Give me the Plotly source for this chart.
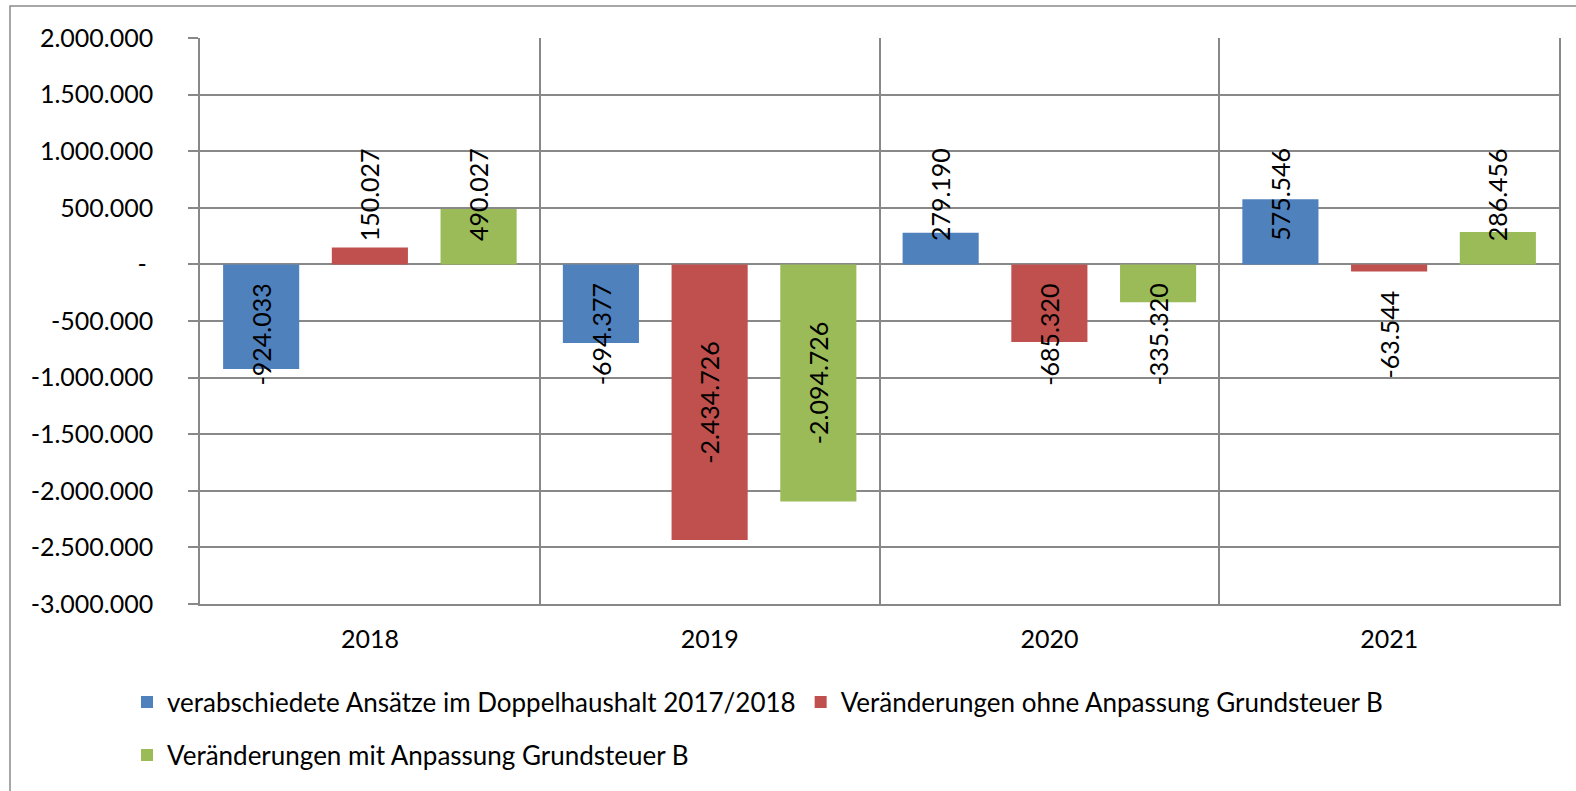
import plotly.graph_objects as go

# ---------------- data ----------------
years = ["2018", "2019", "2020", "2021"]
series_names = [
    "verabschiedete Ansätze im Doppelhaushalt 2017/2018",
    "Veränderungen ohne Anpassung Grundsteuer B",
    "Veränderungen mit Anpassung Grundsteuer B",
]
verabschiedet = [-924033, -694377, 279190, 575546]
ohne_anpassung = [150027, -2434726, -685320, -63544]
mit_anpassung = [490027, -2094726, -335320, 286456]

y_tickvals = [2000000, 1500000, 1000000, 500000, 0, -500000, -1000000,
              -1500000, -2000000, -2500000, -3000000]
y_ticktext = ["2.000.000", "1.500.000", "1.000.000", "500.000", "-\u00a0",
              "-500.000", "-1.000.000", "-1.500.000", "-2.000.000",
              "-2.500.000", "-3.000.000"]

# ---------------- styling ----------------
colors = ["#4F81BD", "#C0504D", "#9BBB59"]
FONT = "Lato"
GRID = "#888888"
BARGAP = 0.04
BARGROUPGAP = 0.30
W, H = 1576, 791
L, R, T, B = 200, 17, 38, 187
pw, ph = W - L - R, H - T - B


def de(v):
    return f"{v:,}".replace(",", ".")


series = [verabschiedet, ohne_anpassung, mit_anpassung]
xs = list(range(len(years)))

fig = go.Figure()
for j, (name, vals, col) in enumerate(zip(series_names, series, colors)):
    fig.add_trace(go.Bar(
        x=xs, y=vals, name=name, marker=dict(color=col, line=dict(width=0)),
        legend="legend" if j < 2 else "legend2",
    ))

# data labels (rotated), Excel-like placement
slot = (1 - BARGAP) / len(series)
annotations = []
for j, vals in enumerate(series):
    for i, v in enumerate(vals):
        sgn = 1 if v >= 0 else -1
        ypos = sgn * max(abs(v) / 2, 618000)
        annotations.append(dict(
            x=i + (j - 1) * slot, y=ypos, xref="x", yref="y",
            text=de(v), textangle=-90, showarrow=False,
            xanchor="center", yanchor="middle",
            font=dict(family=FONT, size=25, color="black"),
        ))

def px_x(p):
    return (p - L) / pw

def px_y(p):
    return (H - B - p) / ph

shapes = [dict(type="rect", xref="paper", yref="paper",
               x0=px_x(10), x1=px_x(1590), y0=px_y(800), y1=px_y(6),
               line=dict(color="#8a8a8a", width=1.5), fillcolor="rgba(0,0,0,0)",
               layer="below")]

LEG_FONT = dict(family=FONT, size=26, color="black")

fig.update_layout(
    width=W, height=H,
    margin=dict(l=L, r=R, t=T, b=B, pad=0),
    paper_bgcolor="white", plot_bgcolor="white",
    barmode="group", bargap=BARGAP, bargroupgap=BARGROUPGAP,
    font=dict(family=FONT, size=25, color="black"),
    annotations=annotations,
    shapes=shapes,
    showlegend=True,
    legend=dict(orientation="h", x=px_x(127), xanchor="left",
                y=px_y(702), yanchor="middle", font=LEG_FONT,
                bgcolor="rgba(0,0,0,0)", itemclick=False),
    legend2=dict(orientation="h", x=px_x(127), xanchor="left",
                 y=px_y(755), yanchor="middle", font=LEG_FONT,
                 bgcolor="rgba(0,0,0,0)", itemclick=False),
    xaxis=dict(
        range=[-0.5, len(years) - 0.5], tickvals=xs, ticktext=years,
        showgrid=False, zeroline=False,
        showline=True, linecolor=GRID, linewidth=1.5,
        ticks="outside", ticklen=12, tickcolor="rgba(0,0,0,0)",
        tickfont=dict(family=FONT, size=25, color="black"),
        minor=dict(tickvals=[0.5, 1.5, 2.5], showgrid=True,
                   gridcolor=GRID, gridwidth=1.5, ticks=""),
        fixedrange=True,
    ),
    yaxis=dict(
        range=[-3000000, 2000000], tickvals=y_tickvals, ticktext=y_ticktext,
        showgrid=True, gridcolor=GRID, gridwidth=1.5,
        zeroline=True, zerolinecolor=GRID, zerolinewidth=1.5,
        showline=True, linecolor=GRID, linewidth=1.5, mirror=True,
        ticks="outside", ticklen=10, tickcolor=GRID, tickwidth=1.5,
        ticklabelstandoff=30,
        tickfont=dict(family=FONT, size=25, color="black"),
        fixedrange=True,
    ),
)

fig.write_html("out.html", post_script="document.body.style.margin='0';",
               config={"displayModeBar": False})
